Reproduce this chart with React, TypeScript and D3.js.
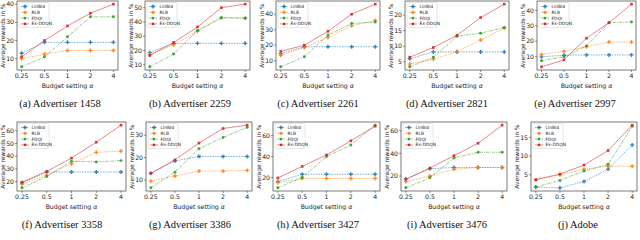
import React from "react";
import * as d3 from "d3";

const budgets = ["0.25", "0.5", "1", "2", "4"];
const methods = ["LinBid", "RLB", "FDQI", "Ex-DDQN"];
const captions = [
  "(a) Advertiser 1458", "(b) Advertiser 2259", "(c) Advertiser 2261", "(d) Advertiser 2821", "(e) Advertiser 2997",
  "(f) Advertiser 3358", "(g) Advertiser 3386", "(h) Advertiser 3427", "(i) Advertiser 3476", "(j) Adobe",
];
const yTicks = [
  [10, 20, 30, 40], [10, 20, 30, 40, 50], [10, 20, 30, 40], [5, 10, 15, 20], [10, 20, 30, 40],
  [20, 30, 40, 50, 60], [10, 20, 30], [20, 40, 60], [20, 40, 60], [5, 10, 15],
];
const linBid = [
  [13, 19, 19, 19, 19], [18.5, 25, 25, 25, 25], [14.5, 19, 19, 19, 19], [6, 8.2, 8.2, 8.2, 8.2], [10, 11, 11.2, 11.2, 11.2],
  [19, 27.5, 27.5, 27.5, 27.5], [13, 18.5, 20.5, 20.5, 20.5], [16, 23, 23, 23, 23], [17.5, 26.5, 27.5, 27.5, 27.5], [1.7, 1.5, 3.2, 6.5, 13],
];
const rlb = [
  [10, 12.5, 14.5, 14.5, 14.5], [17, 24, 33.5, 43, 43], [13.5, 18.5, 25, 32.5, 36], [4.3, 5.8, 8.3, 12, 15.8], [11.5, 13.5, 16.5, 19.5, 19.5],
  [18, 25, 34, 43, 44], [9.5, 11.8, 14, 14, 14.3], [15, 19, 19, 19, 19], [15, 20, 26, 27.5, 27.5], [3.6, 5.0, 6.5, 7.3, 7.3],
];
const fdqi = [
  [5.5, 11, 22, 33, 33], [8.5, 17.5, 34, 43, 42.5], [6, 12.5, 26.5, 34, 35], [3.4, 6.5, 13.2, 14.2, 16], [7.5, 10, 17, 32, 32.5],
  [15, 24, 36, 35.5, 36.5], [6.5, 13.5, 24, 29, 33.5], [10, 20, 40, 51, 70], [9.5, 18.5, 36, 41, 41], [1.7, 3.5, 6, 7.8, 18],
];
const exDdqn = [
  [11, 20, 28, 35, 40], [16.5, 25.5, 36.5, 50, 52.5], [16, 20, 29, 40, 46.5], [6.5, 9.6, 13.5, 19.2, 23.5], [3.5, 8, 22, 32, 44],
  [19.5, 28, 38.5, 51, 64.5], [13, 19, 26.5, 33, 34.5], [19.5, 30.5, 41.5, 55, 69], [17, 27, 38, 49, 65], [3.7, 5.2, 7.6, 11.5, 18.3],
];

const colors = ["#1f77b4", "#ff7f0e", "#2ca02c", "#d62728"];
const dashes = ["1.6,1", "1.6,1", "3,1,1,1", "none"];
const symbols = [d3.symbolCross, d3.symbolCross, d3.symbolCircle, d3.symbolSquare];

// layout (frame left/right per panel, rows top/bottom)
const frames = [
  [17, 118], [145, 250], [276, 380], [405, 509], [537, 636],
  [17, 126], [146, 252], [273, 380], [401, 507], [531, 637],
];
const rows = [[1, 70], [122, 191]];
const captionX = [60, 190, 318, 447, 575, 62, 190, 318, 447, 578];
const AX_FONT = "'DejaVu Sans', sans-serif";

function Panel({ i }: { i: number }) {
  const [left, right] = frames[i];
  const [top, bottom] = rows[Math.floor(i / 5)];
  const series = [linBid[i], rlb[i], fdqi[i], exDdqn[i]];
  const all = series.flat();
  const mn = d3.min(all)!, mx = d3.max(all)!;
  const pad = (mx - mn) * 0.05;
  const x = d3.scaleLinear().domain([-0.2, 4.2]).range([left, right]);
  const y = d3.scaleLinear().domain([mn - pad, mx + pad]).range([bottom, top]);
  const line = d3.line<number>().x((_, k) => x(k)).y((d) => y(d));
  const fs = 6.2;
  return (
    <g>
      <rect x={left} y={top} width={right - left} height={bottom - top} fill="white" stroke="#222" strokeWidth={0.6} />
      {series.map((s, si) => (
        <g key={si}>
          <path d={line(s)!} fill="none" stroke={colors[si]} strokeWidth={1} strokeOpacity={0.55}
            strokeDasharray={dashes[si]} />
          {s.map((v, k) => (
            <path key={k} d={d3.symbol(symbols[si], si < 2 ? 9 : 7)()!} transform={`translate(${x(k)},${y(v)})`}
              fill={colors[si]} fillOpacity={0.9} />
          ))}
        </g>
      ))}
      {budgets.map((b, k) => (
        <g key={b}>
          <line x1={x(k)} x2={x(k)} y1={bottom} y2={bottom + 2} stroke="#222" strokeWidth={0.5} />
          <text x={x(k)} y={bottom + 8} fontSize={fs} textAnchor="middle" fontFamily={AX_FONT} fill="#222">{b}</text>
        </g>
      ))}
      {yTicks[i].map((t) => (
        <g key={t}>
          <line x1={left - 2} x2={left} y1={y(t)} y2={y(t)} stroke="#222" strokeWidth={0.5} />
          <text x={left - 3} y={y(t)} dy="0.35em" fontSize={fs} textAnchor="end" fontFamily={AX_FONT} fill="#222">{t}</text>
        </g>
      ))}
      <text x={(left + right) / 2} y={bottom + 17.5} fontSize={fs} textAnchor="middle" fontFamily={AX_FONT} fill="#222">
        Budget setting <tspan fontStyle="italic">α</tspan>
      </text>
      <text transform={`translate(${left - 12.5},${(top + bottom) / 2}) rotate(-90)`} fontSize={fs - 0.3}
        textAnchor="middle" fontFamily={AX_FONT} fill="#222">Average rewards in %</text>
      <g transform={`translate(${left + 2},${top + 1.5})`}>
        <rect x={0} y={0} width={30} height={25} rx={1} fill="white" fillOpacity={0.8} stroke="#ccc" strokeWidth={0.5} />
        {methods.map((m, si) => (
          <g key={m} transform={`translate(0,${4 + si * 5.8})`}>
            <line x1={2} x2={10} y1={0} y2={0} stroke={colors[si]} strokeWidth={0.9} strokeOpacity={0.6} strokeDasharray={dashes[si]} />
            <path d={d3.symbol(symbols[si], si < 2 ? 8 : 6)()!} transform="translate(6,0)" fill={colors[si]} />
            <text x={12.5} y={0} dy="0.35em" fontSize={4.4} fontFamily={AX_FONT} fill="#222">{m}</text>
          </g>
        ))}
      </g>
      <text x={captionX[i]} y={bottom + 37} fontSize={10.5} textAnchor="middle" fontFamily="'Liberation Serif', serif" fill="#111">
        {captions[i]}
      </text>
    </g>
  );
}

export default function App() {
  return (
    <svg width={640} height={240} style={{ position: "absolute", left: 0, top: 0, background: "white" }}>
      {captions.map((_, i) => <Panel key={i} i={i} />)}
    </svg>
  );
}
